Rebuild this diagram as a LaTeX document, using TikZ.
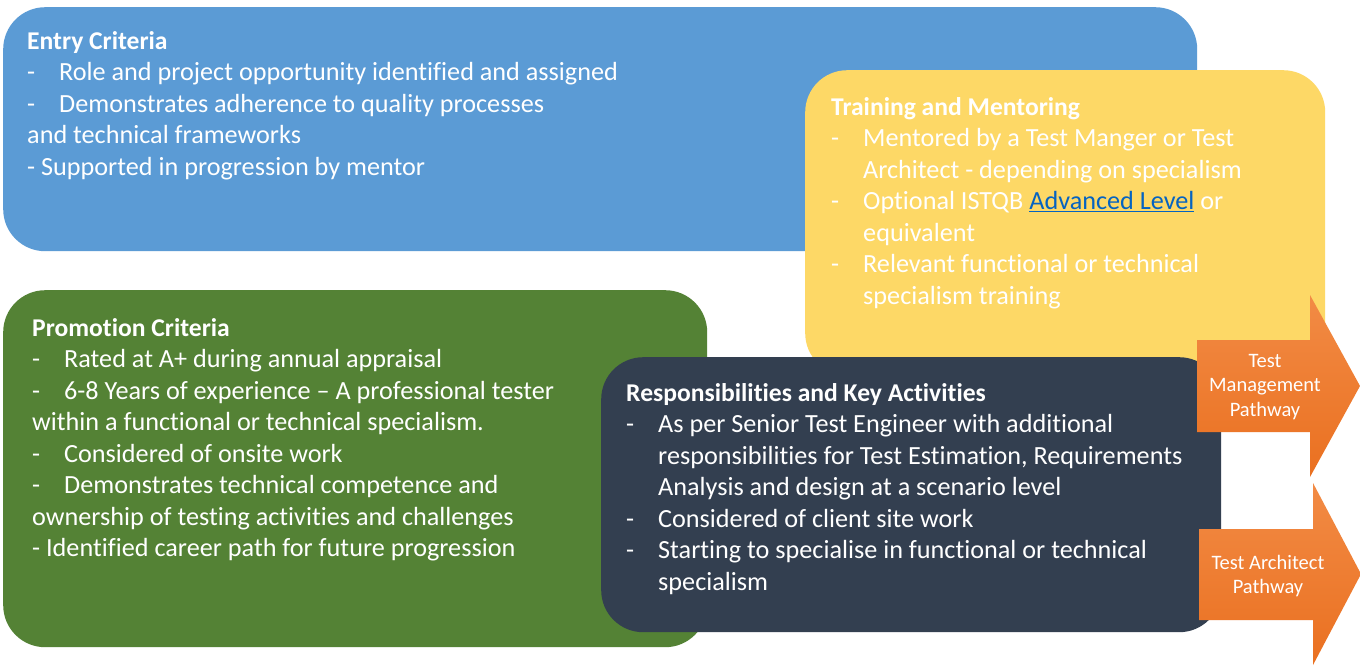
\documentclass[tikz,border=0pt]{standalone}
\usepackage{fontspec}
\setmainfont{Carlito}[Ligatures={NoCommon}]
\definecolor{cblue}{HTML}{5B9BD5}
\definecolor{cyellow}{HTML}{FDD866}
\definecolor{cgreen}{HTML}{548235}
\definecolor{cdark}{HTML}{333F50}
\definecolor{clink}{HTML}{0563C1}
\definecolor{otop}{HTML}{F28B45}
\definecolor{obot}{HTML}{EA7020}
\newcommand{\ditem}[1]{\makebox[32pt][l]{-}#1}
\newcommand{\contline}[1]{\hspace*{32pt}#1}
\newcommand{\btitle}[1]{{\fontsize{25.6}{31.5}\selectfont\bfseries #1}}
\tikzset{
  panel/.style={rounded corners=42pt, anchor=north west, inner sep=0pt, draw=none},
  txt/.style={anchor=base west, inner sep=0pt, text=white, font=\fontsize{26.2}{31.5}\selectfont},
  arrowbox/.style={top color=otop, bottom color=obot, draw=none},
  arrowtxt/.style={align=center, text=white, inner sep=0pt, font=\fontsize{20.5}{24.5}\selectfont}
}
\begin{document}
\begin{tikzpicture}[x=1pt,y=-1pt]
\useasboundingbox (0,0) rectangle (1360,667);
\fill[white] (0,0) rectangle (1360,667);
% panels
\node[panel, fill=cblue, minimum width=1194pt, minimum height=244pt] (entry) at (3,7) {};
\node[panel, fill=cyellow, minimum width=520pt, minimum height=305pt] (train) at (805,70) {};
\node[panel, fill=cgreen, minimum width=704pt, minimum height=357pt] (promo) at (3,290) {};
\node[panel, fill=cdark, minimum width=620pt, minimum height=275pt] (resp) at (601,357) {};
% texts
\node[txt] (entrytxt) at (27,49) {\parbox[t]{1000pt}{\fontsize{26.2}{31.5}\selectfont
\btitle{Entry Criteria}\\
\ditem{Role and project opportunity identified and assigned}\\
\ditem{Demonstrates adherence to quality processes}\\
and technical frameworks\\
- Supported in progression by mentor}};
\node[txt] (traintxt) at (831,115) {\parbox[t]{480pt}{\fontsize{26.2}{31.5}\selectfont
\btitle{Training and Mentoring}\\
\ditem{Mentored by a Test Manger or Test}\\
\contline{Architect - depending on specialism}\\
\ditem{Optional ISTQB {\color{clink}\underline{Advanced Level}} or}\\
\contline{equivalent}\\
\ditem{Relevant functional or technical}\\
\contline{specialism training}}};
\node[txt] (promotxt) at (32,336) {\parbox[t]{680pt}{\fontsize{26.2}{31.5}\selectfont
\btitle{Promotion Criteria}\\
\ditem{Rated at A+ during annual appraisal}\\
\ditem{6-8 Years of experience – A professional tester}\\
within a functional or technical specialism.\\
\ditem{Considered of onsite work}\\
\ditem{Demonstrates technical competence and}\\
ownership of testing activities and challenges\\
- Identified career path for future progression}};
\node[txt] (resptxt) at (626,401) {\parbox[t]{590pt}{\fontsize{26.2}{31.5}\selectfont
\btitle{Responsibilities and Key Activities}\\
\ditem{As per Senior Test Engineer with additional}\\
\contline{responsibilities for Test Estimation, Requirements}\\
\contline{Analysis and design at a scenario level}\\
\ditem{Considered of client site work}\\
\ditem{Starting to specialise in functional or technical}\\
\contline{specialism}}};
% arrows
\shade[arrowbox] (1197,340) -- (1310,340) -- (1310,295) -- (1360,386) -- (1310,477) -- (1310,432) -- (1197,432) -- cycle;
\node[arrowtxt] (mgmt) at (1265,387) {Test\\Management\\Pathway};
\shade[arrowbox] (1199,529) -- (1313,529) -- (1313,483) -- (1361,574) -- (1313,665) -- (1313,620) -- (1199,620) -- cycle;
\node[arrowtxt] (arch) at (1268,576) {Test Architect\\Pathway};
\end{tikzpicture}
\end{document}
